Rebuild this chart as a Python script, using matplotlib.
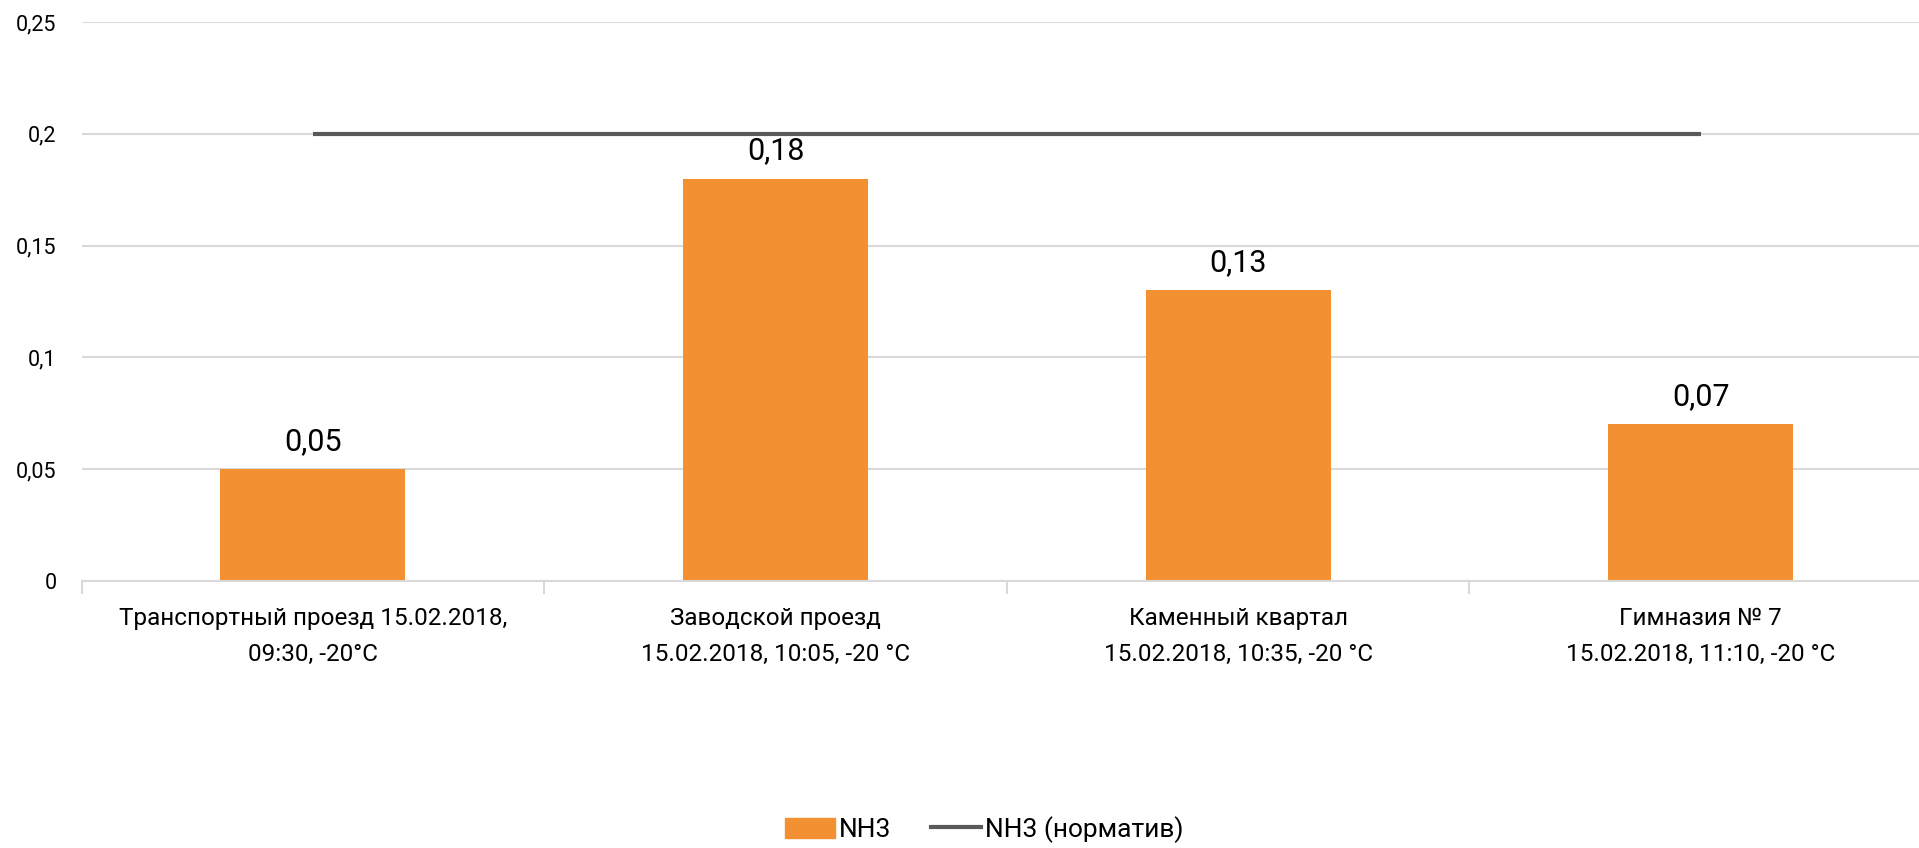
import numpy as np
import matplotlib.pyplot as plt
from matplotlib.lines import Line2D
from matplotlib.patches import Patch

plt.rcParams['font.family'] = ['Roboto', 'DejaVu Sans']

categories = ["Транспортный проезд 15.02.2018,\n09:30, -20°C",
              "Заводской проезд\n15.02.2018, 10:05, -20 °C",
              "Каменный квартал\n15.02.2018, 10:35, -20 °C",
              "Гимназия № 7\n15.02.2018, 11:10, -20 °C"]
nh3 = [0.05, 0.18, 0.13, 0.07]
nh3_norm = [0.2, 0.2, 0.2, 0.2]
yticks = [0, 0.05, 0.1, 0.15, 0.2, 0.25]
ytick_labels = ["0", "0,05", "0,1", "0,15", "0,2", "0,25"]

orange = '#F39032'
grid_c = '#D9D9D9'

fig = plt.figure(figsize=(19.19, 8.48), dpi=100)
# axes run a little past the right edge, like the original
ax = fig.add_axes([0.0425, 0.315, 0.9643, 0.659])

x = np.arange(len(categories))
ax.bar(x, nh3, width=0.4, color=orange, zorder=2)
ax.plot(x, nh3_norm, color='#595959', lw=3, solid_capstyle='butt', zorder=3)

for xi, v in zip(x, nh3):
    ax.text(xi, v + 0.006, f"{v:.2f}".replace('.', ','), ha='center', va='bottom',
            fontsize=22, color='#000000')

ax.set_xlim(-0.5, len(categories) - 0.5)
ax.set_ylim(0, 0.25)
ax.set_yticks(yticks)
ax.set_yticklabels(ytick_labels, fontsize=15.5)
ax.set_xticks(x)
ax.set_xticklabels(categories, fontsize=17.5, linespacing=1.7)
ax.set_xticks(np.arange(-0.5, len(categories), 1.0), minor=True)
ax.tick_params(axis='x', which='major', length=0, pad=19)
ax.tick_params(axis='x', which='minor', length=9, color=grid_c, width=1.5)
ax.tick_params(axis='y', length=0, pad=18)

ax.grid(axis='y', color=grid_c, lw=1.5, zorder=0)
for s in ['top', 'right', 'left']:
    ax.spines[s].set_visible(False)
ax.spines['bottom'].set_color(grid_c)
ax.spines['bottom'].set_linewidth(1.5)

handles = [Patch(color=orange, label='NH3'),
           Line2D([0], [0], color='#595959', lw=3, label='NH3 (норматив)')]
fig.legend(handles=handles, loc='center', bbox_to_anchor=(0.513, 0.022), ncol=2,
           frameon=False, fontsize=19, handlelength=1.9, handleheight=0.8,
           handletextpad=0.15, columnspacing=1.5)

fig.savefig('out.png', dpi=100)
